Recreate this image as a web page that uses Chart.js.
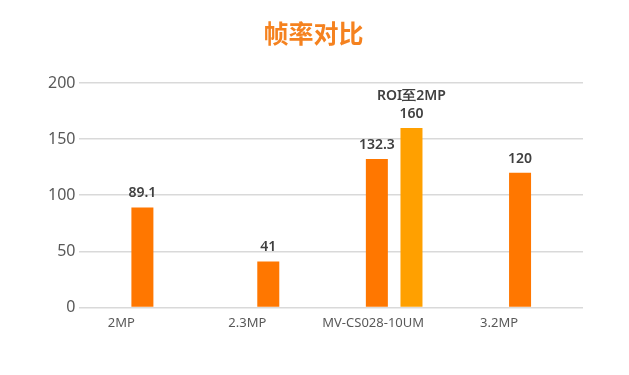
<!DOCTYPE html>
<html>
<head>
<meta charset="utf-8">
<script src="https://cdn.jsdelivr.net/npm/chart.js@4/dist/chart.umd.min.js"></script>
<style>
  html, body { margin: 0; padding: 0; background: #fff; }
  #wrap { width: 629px; height: 375px; }
</style>
</head>
<body>
<div id="wrap"><canvas id="fpsChart" width="629" height="375"></canvas></div>
<script>
const categories = ['2MP', '2.3MP', 'MV-CS028-10UM', '3.2MP'];
const fpsValues = [89.1, 41, 132.3, 120];
const roiValues = [null, null, 160, null];
const roiLabel = 'ROI至2MP';
const yTicks = [0, 50, 100, 150, 200];

// draws value labels above each bar
const barLabels = {
  id: 'barLabels',
  afterDatasetsDraw(chart) {
    const ctx = chart.ctx;
    ctx.save();
    ctx.fillStyle = '#404040';
    ctx.textAlign = 'center';
    ctx.textBaseline = 'alphabetic';
    ctx.font = '600 14px "Noto Sans", sans-serif';
    chart.data.datasets.forEach((ds, di) => {
      const meta = chart.getDatasetMeta(di);
      meta.data.forEach((bar, i) => {
        const v = ds.data[i];
        if (v === null || v === undefined) return;
        ctx.fillText(String(v), bar.x, bar.y - 10);
        if (di === 1) {
          ctx.fillText(roiLabel, bar.x, bar.y - 28);
        }
      });
    });
    ctx.restore();
  }
};

const ctx = document.getElementById('fpsChart').getContext('2d');
new Chart(ctx, {
  type: 'bar',
  data: {
    labels: categories,
    datasets: [{
      label: '帧率',
      data: fpsValues,
      backgroundColor: '#FF7700',
      maxBarThickness: 22,
      categoryPercentage: 0.55,
      barPercentage: 0.64
    }, {
      label: roiLabel,
      data: roiValues,
      backgroundColor: '#FFA000',
      maxBarThickness: 22,
      categoryPercentage: 0.55,
      barPercentage: 0.64
    }]
  },
  options: {
    responsive: false,
    animation: false,
    skipNull: true,
    layout: { padding: { left: 44, right: 46, top: 14, bottom: 44 } },
    scales: {
      y: {
        min: 0,
        max: 200,
        afterBuildTicks: axis => { axis.ticks = yTicks.map(v => ({ value: v })); },
        border: { display: false },
        grid: { color: '#d9d9d9', lineWidth: 1.5, drawTicks: false },
        ticks: {
          color: '#595959',
          padding: 4,
          font: { family: '"Noto Sans", sans-serif', size: 16 }
        }
      },
      x: {
        border: { display: false },
        grid: { display: false },
        ticks: {
          color: '#595959',
          padding: 0,
          labelOffset: -21,
          font: { family: '"Noto Sans", sans-serif', size: 13 }
        }
      }
    },
    plugins: {
      legend: { display: false },
      tooltip: { enabled: false },
      title: {
        display: true,
        text: '帧率对比',
        color: '#F5821F',
        font: { family: '"Noto Sans CJK SC", sans-serif', size: 25, weight: 'bold' },
        padding: { top: 4, bottom: 35 }
      }
    }
  },
  plugins: [barLabels]
});
</script>
</body>
</html>
